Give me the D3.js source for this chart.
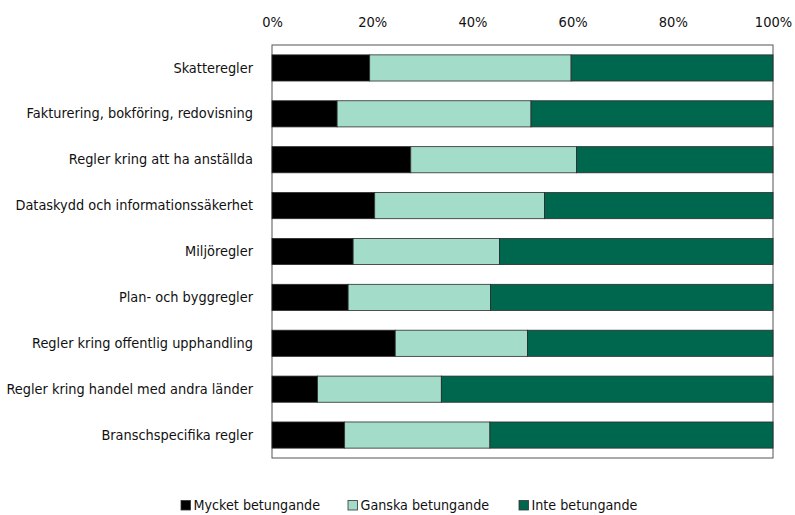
<!DOCTYPE html>
<html>
<head>
<meta charset="utf-8">
<script src="https://cdn.jsdelivr.net/npm/d3@7"></script>
<style>
  body { margin: 0; background: #fff; }
  text { font-family: "DejaVu Sans Condensed", "Liberation Sans Narrow", sans-serif; fill: #111; }
</style>
</head>
<body>
<div id="chart"></div>
<script>
const categories = [
  'Skatteregler',
  'Fakturering, bokföring, redovisning',
  'Regler kring att ha anställda',
  'Dataskydd och informationssäkerhet',
  'Miljöregler',
  'Plan- och byggregler',
  'Regler kring offentlig upphandling',
  'Regler kring handel med andra länder',
  'Branschspecifika regler'
];
const seriesNames = ['Mycket betungande', 'Ganska betungande', 'Inte betungande'];
const mycket = [19.5, 13.0, 27.7, 20.5, 16.2, 15.2, 24.6, 9.1, 14.5];
const ganska = [40.2, 38.7, 33.1, 33.9, 29.2, 28.4, 26.4, 24.7, 29.0];
const inte   = [40.3, 48.3, 39.2, 45.6, 54.6, 56.4, 49.0, 66.2, 56.5];
const tickValues = [0, 20, 40, 60, 80, 100];
const colors = ['#000000', '#a3ddc9', '#00674f'];

const width = 795, height = 515;
const margin = {top: 45, right: 22, bottom: 57, left: 272};
const w = width - margin.left - margin.right;
const h = height - margin.top - margin.bottom;
const fontStack = '"DejaVu Sans Condensed", "Liberation Sans Narrow", sans-serif';

const svg = d3.select('#chart')
  .append('svg')
  .attr('width', width)
  .attr('height', height);

const g = svg.append('g')
  .attr('transform', `translate(${margin.left}, ${margin.top})`);

const xScale = d3.scaleLinear().domain([0, 100]).range([0, w]);
const yScale = d3.scaleBand()
  .domain(categories)
  .range([0, h])
  .paddingInner(0.43)
  .paddingOuter(0.215);

const rows = categories.map((c, i) => ({cat: c, m: mycket[i], g: ganska[i], i: inte[i]}));
const stack = d3.stack().keys(['m', 'g', 'i'])(rows);

// plot frame
g.append('rect')
  .attr('x', 0).attr('y', 0)
  .attr('width', w).attr('height', h)
  .attr('fill', 'none')
  .attr('stroke', '#555')
  .attr('stroke-width', 1);

g.selectAll('.layer')
  .data(stack)
  .enter()
  .append('g')
  .attr('class', 'layer')
  .attr('fill', (d, i) => colors[i])
  .selectAll('rect')
  .data(d => d)
  .enter()
  .append('rect')
  .attr('x', d => xScale(d[0]))
  .attr('y', d => yScale(d.data.cat))
  .attr('width', d => xScale(d[1]) - xScale(d[0]))
  .attr('height', yScale.bandwidth())
  .attr('stroke', '#2b2b2b')
  .attr('stroke-width', 0.8);

const xAxis = d3.axisTop(xScale)
  .tickValues(tickValues)
  .tickSize(0)
  .tickPadding(18)
  .tickFormat(d => d + '%');

g.append('g')
  .attr('id', 'x-axis')
  .call(xAxis)
  .call(a => a.select('.domain').remove())
  .selectAll('text')
  .style('font-family', fontStack)
  .style('font-size', '14.5px')
  .attr('fill', '#111');

const yAxis = d3.axisLeft(yScale).tickSize(0).tickPadding(19);
g.append('g')
  .attr('id', 'y-axis')
  .call(yAxis)
  .call(a => a.select('.domain').remove())
  .selectAll('text')
  .style('font-family', fontStack)
  .style('font-size', '14.4px')
  .attr('fill', '#111');

// legend
const legendX = [181, 348, 519];
const legend = svg.append('g').attr('id', 'legend');
seriesNames.forEach((name, i) => {
  legend.append('rect')
    .attr('x', legendX[i]).attr('y', 500.5)
    .attr('width', 9.5).attr('height', 9.5)
    .attr('fill', colors[i])
    .attr('stroke', '#333')
    .attr('stroke-width', 0.8);
  legend.append('text')
    .attr('x', legendX[i] + 12.5)
    .attr('y', 510)
    .style('font-size', '14.2px')
    .text(name);
});
</script>
</body>
</html>
